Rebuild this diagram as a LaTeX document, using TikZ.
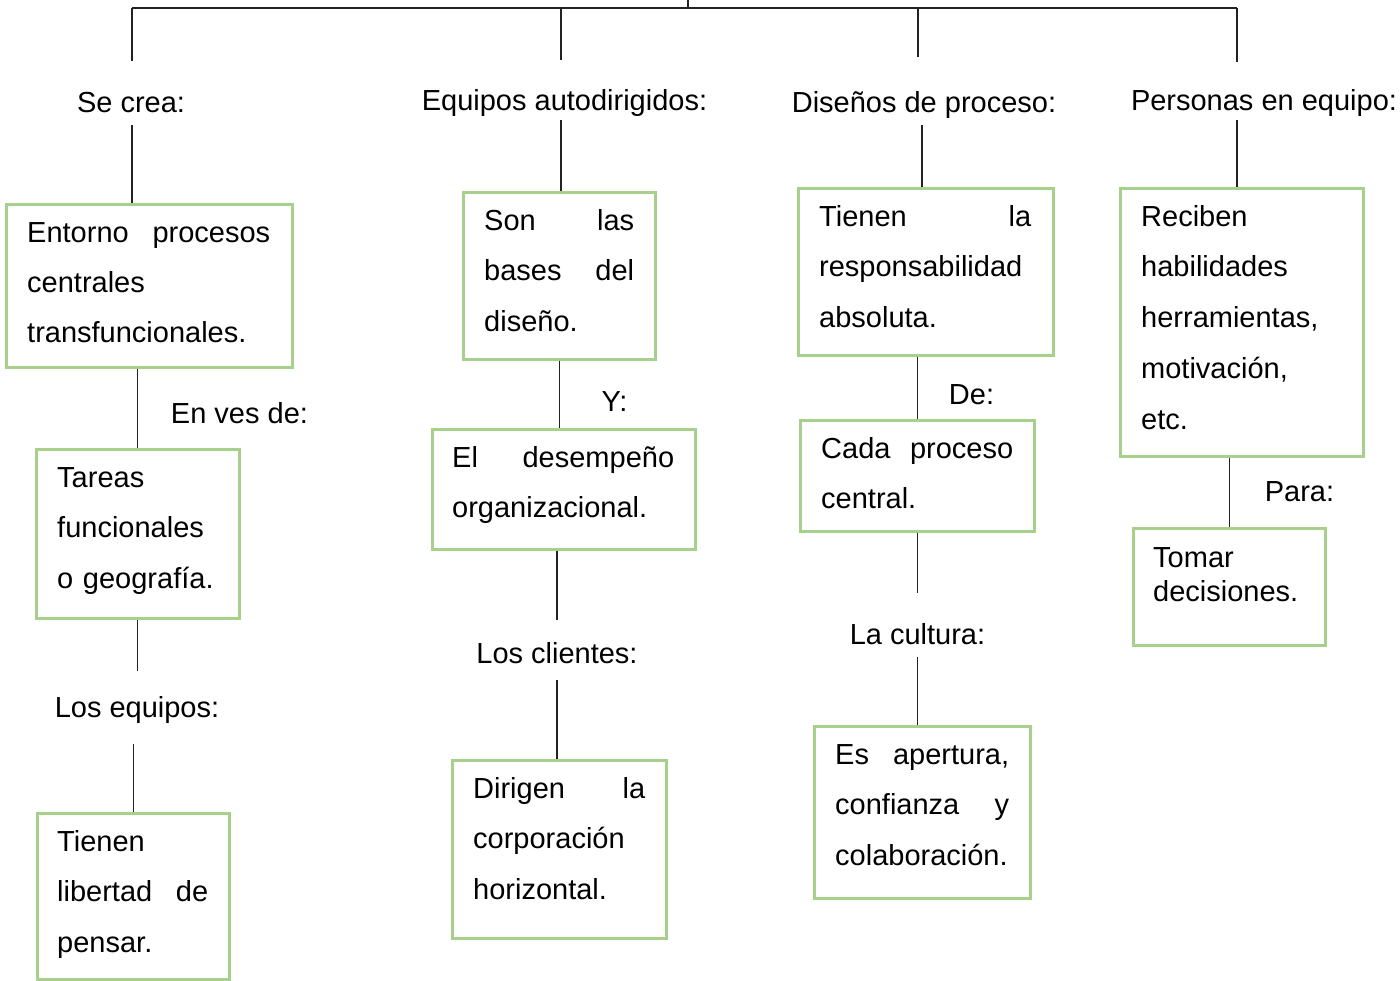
\documentclass[tikz,border=0pt]{standalone}
\usepackage{fontspec}
\setmainfont{Liberation Sans}
\definecolor{boxgreen}{HTML}{A8D08D}
\definecolor{linegray}{HTML}{222222}
\newcommand\mypars{\setlength{\parindent}{0pt}\setlength{\parskip}{0pt}}
\newcommand\firststrut{\rule{0pt}{25pt}}
\begin{document}
\begin{tikzpicture}[x=1pt,y=-1pt,
  box/.style={draw=boxgreen,line width=2.6pt,inner sep=0,anchor=north west},
  txt/.style={inner sep=0,anchor=north west,align=left,
    font=\fontsize{29}{50.7}\selectfont\mypars},
  lab/.style={inner sep=0,text height=21pt,text depth=6pt,anchor=base,
    font=\fontsize{29}{34}\selectfont},
  conn/.style={draw=linegray,line width=1.2pt}]
\useasboundingbox (0,0) rectangle (1400,980);

% boxes
\node[box,minimum width=286pt,minimum height=163pt] (b1) at (5,203) {};
\node[box,minimum width=203pt,minimum height=169pt] (b2) at (35,448) {};
\node[box,minimum width=192pt,minimum height=166pt] (b3) at (36,812) {};
\node[box,minimum width=192pt,minimum height=167pt] (b2a) at (462,191) {};
\node[box,minimum width=263pt,minimum height=120pt] (b2b) at (431,428) {};
\node[box,minimum width=214pt,minimum height=178pt] (b2c) at (451,759) {};
\node[box,minimum width=255pt,minimum height=167pt] (b3a) at (797,187) {};
\node[box,minimum width=234pt,minimum height=111pt] (b3b) at (799,419) {};
\node[box,minimum width=216pt,minimum height=172pt] (b3c) at (813,725) {};
\node[box,minimum width=243pt,minimum height=268pt] (b4a) at (1119,187) {};
\node[box,minimum width=192pt,minimum height=117pt] (b4b) at (1132,527) {};

% texts inside boxes
\node[txt,text width=243pt,font=\fontsize{29}{50}\selectfont\mypars] (t1) at (27,217)
  {\firststrut Entorno\hfill procesos\\centrales\\transfuncionales.};
\node[txt,text width=170pt] (t2) at (57,462)
  {\firststrut Tareas\\funcionales\\o geografía.};
\node[txt,text width=151pt] (t3) at (57,826)
  {\firststrut Tienen\\libertad\hfill de\\pensar.};
\node[txt,text width=150pt] (t2a) at (484,205)
  {\firststrut Son\hfill las\\bases\hfill del\\diseño.};
\node[txt,text width=222pt] (t2b) at (452,442)
  {\firststrut El\hfill desempeño\\organizacional.};
\node[txt,text width=172pt] (t2c) at (473,773)
  {\firststrut Dirigen\hfill la\\corporación\\horizontal.};
\node[txt,text width=212pt] (t3a) at (819,201)
  {\firststrut Tienen\hfill la\\responsabilidad\\absoluta.};
\node[txt,text width=192pt] (t3b) at (821,433)
  {\firststrut Cada\hfill proceso\\central.};
\node[txt,text width=174pt] (t3c) at (835,739)
  {\firststrut Es\hfill apertura,\\confianza\hfill y\\colaboración.};
\node[txt,text width=200pt] (t4a) at (1141,201)
  {\firststrut Reciben\\habilidades\\herramientas,\\motivación,\\etc.};
\node[txt,text width=160pt,font=\fontsize{29}{34.5}\selectfont\mypars] (t4b) at (1153,542)
  {\firststrut Tomar\\decisiones.};

% labels
\node[lab] (l1) at (131,112) {Se crea:};
\node[lab] (l2) at (564.5,110) {Equipos autodirigidos:};
\node[lab] (l3) at (924,112) {Diseños de proceso:};
\node[lab] (l4) at (1264,110) {Personas en equipo:};
\node[lab] (l5) at (137,717) {Los equipos:};
\node[lab] (l6) at (239.5,423) {En ves de:};
\node[lab] (l7) at (557,663) {Los clientes:};
\node[lab] (l8) at (614.5,411) {Y:};
\node[lab] (l9) at (917.5,644) {La cultura:};
\node[lab] (l10) at (971.5,404) {De:};
\node[lab] (l11) at (1299.5,501) {Para:};

% top bar
\coordinate (root) at (688,0);
\coordinate (bar) at (688,8);
\coordinate (k1) at ([xshift=1pt]l1.north);
\coordinate (k2) at ([xshift=-3.5pt]l2.north);
\coordinate (k3) at ([xshift=-6pt]l3.north);
\coordinate (k4) at ([xshift=-27pt]l4.north);
\draw[conn] (root) -- (bar);
\draw[conn] (k1 |- bar) -- (k4 |- bar);
\draw[conn,shorten >=30pt] (k1 |- bar) -- (k1);
\draw[conn,shorten >=29pt] (k2 |- bar) -- (k2);
\draw[conn,shorten >=34pt] (k3 |- bar) -- (k3);
\draw[conn,shorten >=27pt] (k4 |- bar) -- (k4);

% labels to first boxes
\coordinate (m1) at ([xshift=1pt]l1.south);
\coordinate (m2) at ([xshift=-3.5pt]l2.south);
\coordinate (m3) at ([xshift=-2pt]l3.south);
\coordinate (m4) at ([xshift=-27pt]l4.south);
\draw[conn,shorten <=7pt] (m1) -- (m1 |- b1.north);
\draw[conn,shorten <=4pt] (m2) -- (m2 |- b2a.north);
\draw[conn,shorten <=7pt] (m3) -- (m3 |- b3a.north);
\draw[conn,shorten <=4pt] (m4) -- (m4 |- b4a.north);

% column 1
\draw[conn] (b2.north |- b1.south) -- (b2.north);
\draw[conn,shorten >=25pt] (b2.south) -- (b2.south |- l5.north);
\draw[conn,shorten <=21pt] (l5.south -| b3.north) -- (b3.north);
% column 2
\draw[conn] (b2a.south) -- (b2a.south |- b2b.north);
\draw[conn,shorten >=22pt] (b2b.south -| l7.north) -- (l7.north);
\draw[conn,shorten <=11pt] (l7.south) -- (l7.south |- b2c.north);
% column 3
\draw[conn] (b3a.south -| b3b.north) -- (b3b.north);
\draw[conn,shorten >=30pt] (b3b.south -| l9.north) -- (l9.north);
\draw[conn,shorten <=7pt] (l9.south) -- (l9.south |- b3c.north);
% column 4
\draw[conn] (b4a.south -| b4b.north) -- (b4b.north);
\end{tikzpicture}
\end{document}
